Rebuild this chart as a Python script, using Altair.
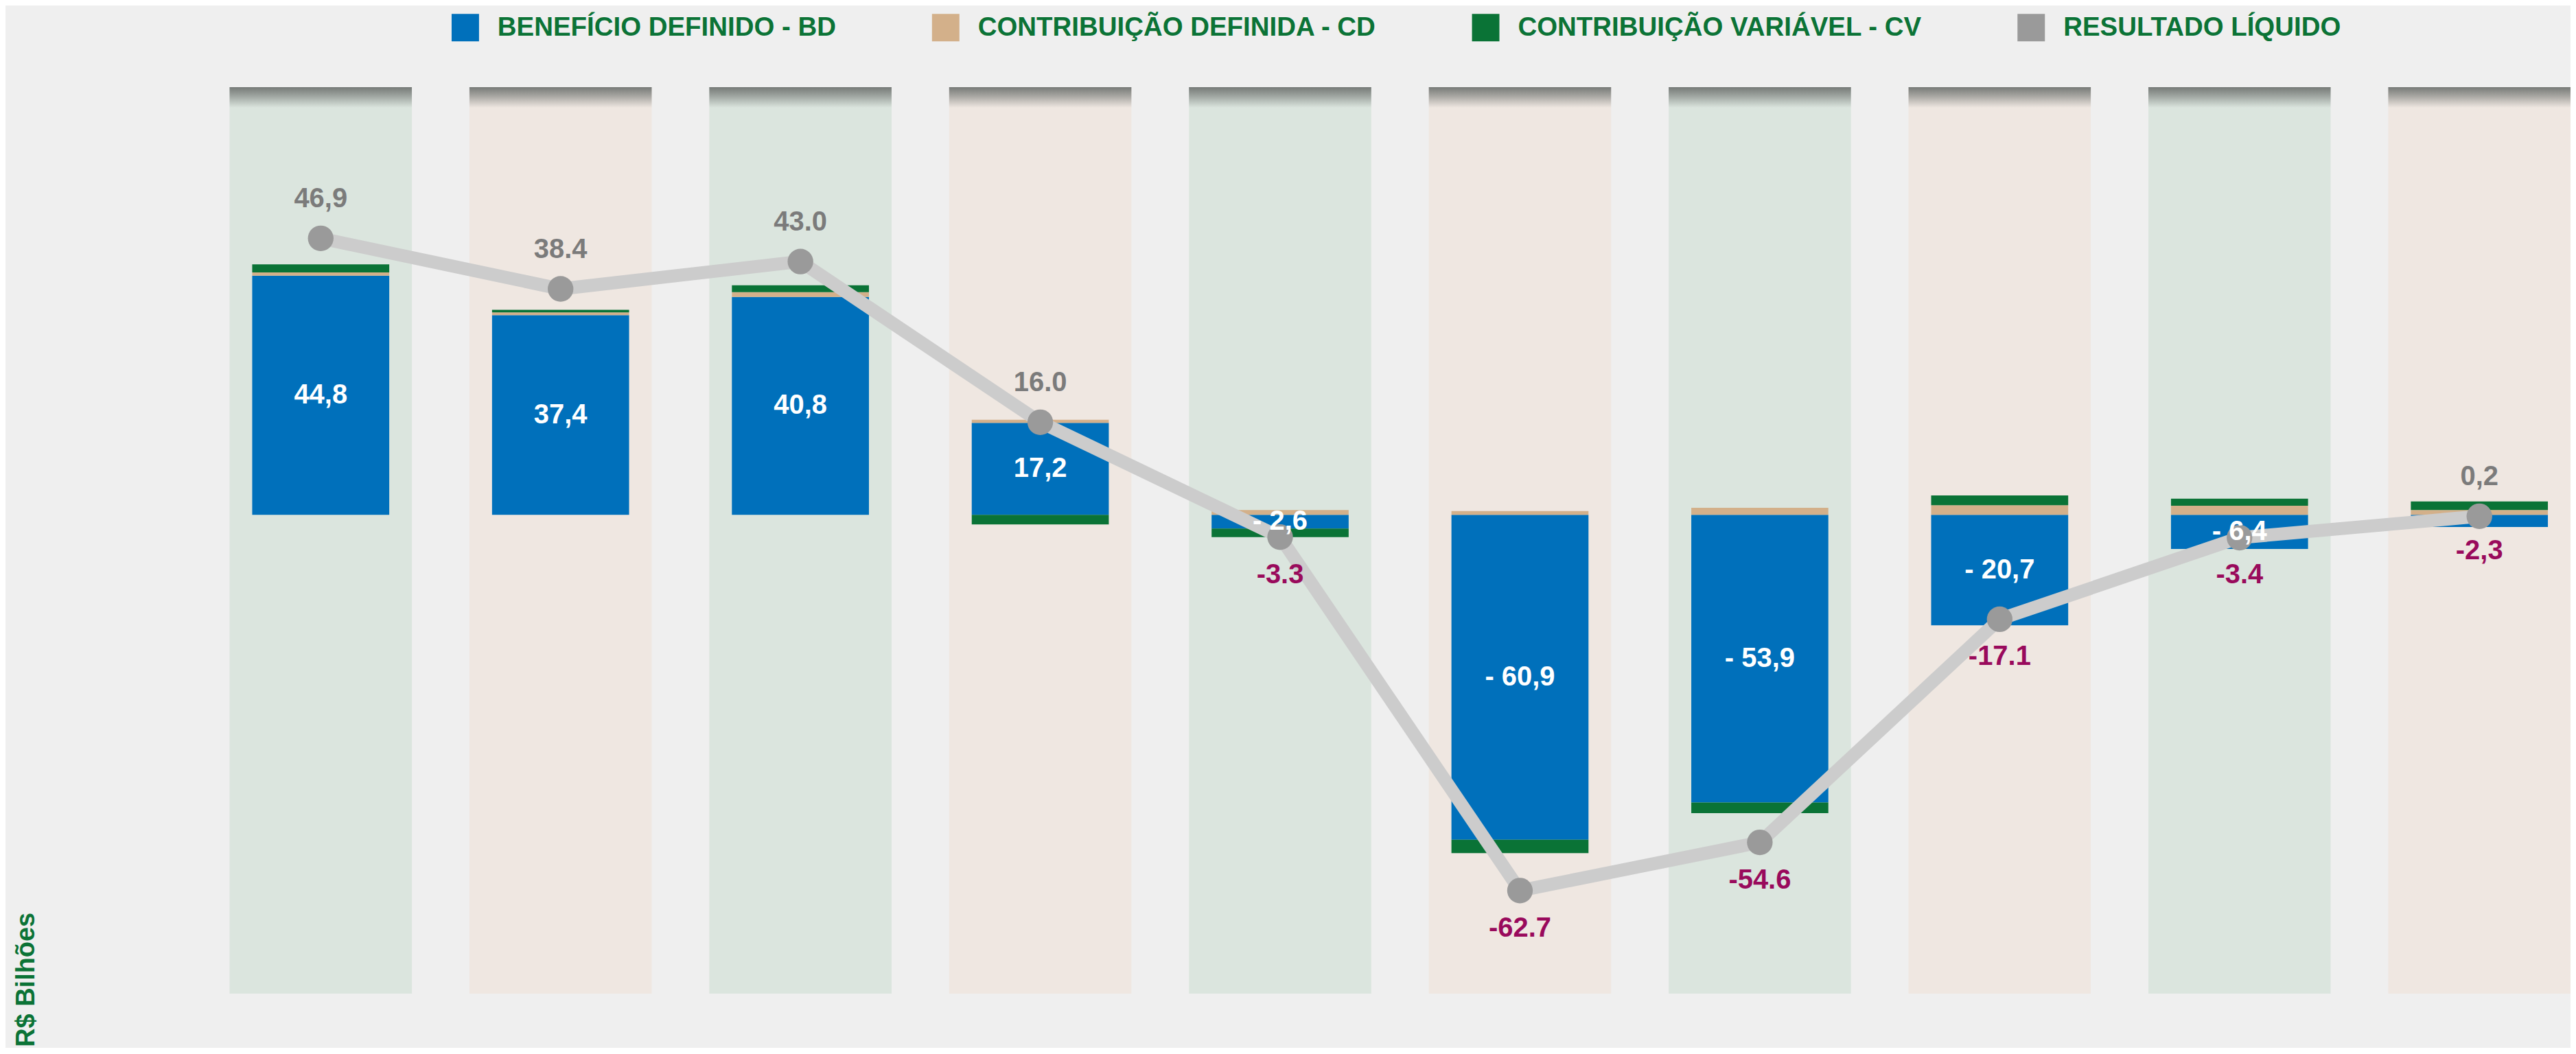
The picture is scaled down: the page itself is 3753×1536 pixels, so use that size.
import altair as alt
import pandas as pd

# ---- data ----
anos = ["2010", "2011", "2012", "2013", "2014", "2015", "2016", "2017", "2018", "12/2019"]
bd = [44.8, 37.4, 40.8, 17.2, -2.6, -60.9, -53.9, -20.7, -6.4, -2.3]
cd = [0.6, 0.5, 0.9, 0.6, 0.9, 0.7, 1.3, 1.8, 1.7, 0.9]
cv = [1.5, 0.5, 1.3, -1.8, -1.6, -2.5, -2.0, 1.8, 1.3, 1.6]
resultado = [46.9, 38.4, 43.0, 16.0, -3.3, -62.7, -54.6, -17.1, -3.4, 0.2]
resultado_rotulos = ["46,9", "38.4", "43.0", "16.0", "-3.3", "-62.7", "-54.6", "-17.1", "-3.4", "0,2"]
bd_rotulos = ["44,8", "37,4", "40,8", "17,2", "- 2,6", "- 60,9", "- 53,9", "- 20,7", "- 6,4", "-2,3"]
series = ["BENEFÍCIO DEFINIDO - BD", "CONTRIBUIÇÃO DEFINIDA - CD",
          "CONTRIBUIÇÃO VARIÁVEL - CV", "RESULTADO LÍQUIDO"]
titulo_eixo = "R$ Bilhões"

# ---- styles ----
FONT = "Liberation Sans"
GREEN_TXT = "#0b7336"
C_BD, C_CD, C_CV, C_RL = "#0070bb", "#d3b08a", "#0a7336", "#9a9a9a"
COL_A, COL_B = "#dbe5de", "#efe7e1"
GRAY_LBL, MAG_LBL = "#7b7b7b", "#990a5c"

W, H = 3416, 1323
bar_dom = [-89.7, 80.1]
line_dom = [-80.0, 72.3]

# ---- tables ----
rows = []
for i, a in enumerate(anos):
    for k, (s, v) in enumerate(zip(series[:3], [bd[i], cd[i], cv[i]])):
        rows.append({"ano": a, "serie": s, "valor": v, "ordem": k})
stack_df = pd.DataFrame(rows)

base_df = pd.DataFrame({
    "ano": anos, "bd": bd, "bd_meio": [v / 2 for v in bd], "bd_rot": bd_rotulos,
    "net": resultado, "net_rot": resultado_rotulos,
    "fundo": [COL_A if i % 2 == 0 else COL_B for i in range(len(anos))],
})

xscale = alt.Scale(domain=anos, paddingInner=0.24, paddingOuter=0)
xenc = alt.X("ano:N", sort=anos, scale=xscale, title=None,
             axis=alt.Axis(domain=False, ticks=False, tickSize=0, grid=False,
                           labelAngle=0, labelFont=FONT, labelFontSize=40,
                           labelFontWeight="bold", labelColor=GREEN_TXT,
                           labelPadding=26))
xenc_noaxis = alt.X("ano:N", sort=anos, scale=xscale, title=None, axis=None)

base = alt.Chart(base_df)

fundo = base.mark_bar().encode(
    x=xenc,
    y=alt.value(0), y2=alt.value(H),
    fill=alt.Fill("fundo:N", scale=None),
)

sombra = base.mark_bar(color={
    "gradient": "linear", "x1": 0, "x2": 0, "y1": 0, "y2": 1,
    "stops": [{"offset": 0, "color": "rgba(112,116,113,0.95)"},
              {"offset": 0.45, "color": "rgba(112,116,113,0.55)"},
              {"offset": 1, "color": "rgba(112,116,113,0)"}]}).encode(
    x=xenc_noaxis, y=alt.value(0), y2=alt.value(30))

barras = alt.Chart(stack_df).mark_bar(width=200).encode(
    x=xenc_noaxis,
    y=alt.Y("valor:Q", stack="zero", scale=alt.Scale(domain=bar_dom, nice=False, zero=False),
            axis=None),
    color=alt.Color("serie:N", scale=alt.Scale(domain=series, range=[C_BD, C_CD, C_CV, C_RL]),
                    legend=alt.Legend(title=None, orient="none", direction="horizontal",
                                      columns=4, legendX=324, legendY=-107, padding=0,
                                      symbolType="square", symbolSize=1600,
                                      symbolStrokeWidth=0, symbolOpacity=1,
                                      labelFont=FONT, labelFontSize=38.5,
                                      labelFontWeight="bold", labelColor=GREEN_TXT,
                                      labelOffset=27, columnPadding=139,
                                      labelLimit=1000, labelBaseline="middle")),
    order=alt.Order("ordem:Q", sort="ascending"),
)

ybar = alt.Y("bd_meio:Q", scale=alt.Scale(domain=bar_dom, nice=False, zero=False), axis=None)
rot_bd_in = base.transform_filter("abs(datum.bd) >= 2.5").mark_text(
    font=FONT, fontSize=40, fontWeight="bold", color="white", baseline="middle").encode(
    x=xenc_noaxis, y=ybar, text="bd_rot:N")
rot_bd_out = base.transform_filter("abs(datum.bd) < 2.5").mark_text(
    font=FONT, fontSize=40, fontWeight="bold", color=MAG_LBL, baseline="middle", dy=35).encode(
    x=xenc_noaxis,
    y=alt.Y("bd:Q", scale=alt.Scale(domain=bar_dom, nice=False, zero=False), axis=None),
    text="bd_rot:N")

yline = alt.Y("net:Q", scale=alt.Scale(domain=line_dom, nice=False, zero=False), axis=None)
linha = base.mark_line(color="#cccccc", strokeWidth=19).encode(x=xenc_noaxis, y=yline)
pontos = base.mark_circle(size=1400, color=C_RL, opacity=1).encode(x=xenc_noaxis, y=yline)
rot_pos = base.transform_filter("datum.net >= 0").mark_text(
    font=FONT, fontSize=40, fontWeight="bold", color=GRAY_LBL, baseline="middle", dy=-57).encode(
    x=xenc_noaxis, y=yline, text="net_rot:N")
rot_neg = base.transform_filter("datum.net < 0").mark_text(
    font=FONT, fontSize=40, fontWeight="bold", color=MAG_LBL, baseline="middle", dy=55).encode(
    x=xenc_noaxis, y=yline, text="net_rot:N")

titulo = alt.Chart(pd.DataFrame({"t": [titulo_eixo]})).mark_text(
    font=FONT, fontSize=38, fontWeight="bold", color=GREEN_TXT, angle=270,
    align="left", baseline="middle").encode(
    x=alt.value(-296), y=alt.value(1401), text="t:N")

grupo_barras = alt.layer(fundo, sombra, barras)
grupo_linha = alt.layer(linha, pontos)
grupo_rot_bd = alt.layer(rot_bd_in, rot_bd_out)
grupo_rot_net = alt.layer(rot_pos, rot_neg)

chart = alt.layer(grupo_barras, grupo_linha, grupo_rot_bd, grupo_rot_net, titulo).resolve_scale(
    y="independent").properties(
    width=W, height=H,
    autosize=alt.AutoSizeParams(type="none"),
    padding={"left": 327, "top": 118, "right": 0, "bottom": 78},
    background="#efefef",
).configure_view(stroke=None)

chart.save("out.html", embed_options={"renderer": "svg", "actions": False})
